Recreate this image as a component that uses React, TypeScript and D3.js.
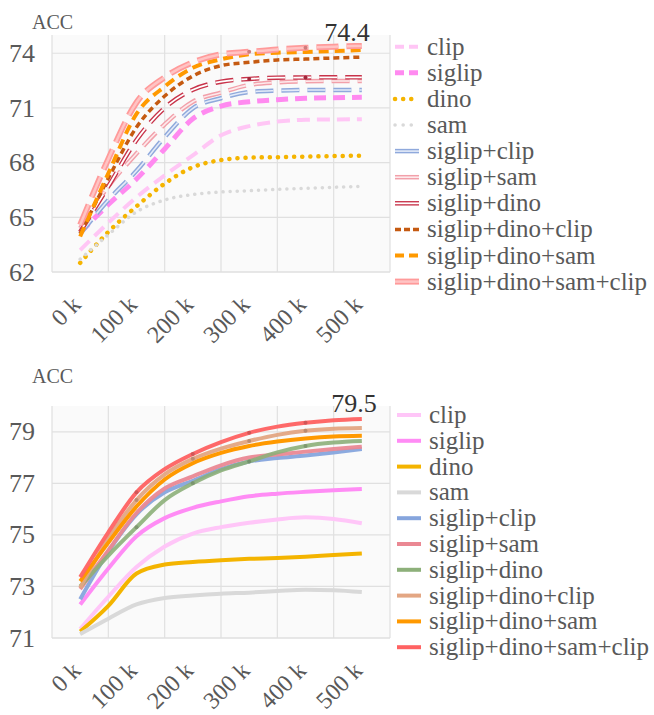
import React from "react";
import * as d3 from "d3";

// ---------- data ----------
const X_VALUES = [0, 50, 100, 150, 200, 250, 300, 350, 400, 450, 500];
const X_TICKS = [0, 100, 200, 300, 400, 500];
const X_GRID = [-50, 50, 150, 250, 350, 450, 550];
const SERIES_NAMES = [
  "clip",
  "siglip",
  "dino",
  "sam",
  "siglip+clip",
  "siglip+sam",
  "siglip+dino",
  "siglip+dino+clip",
  "siglip+dino+sam",
  "siglip+dino+sam+clip",
];

const TOP_Y_TICKS = [62, 65, 68, 71, 74];
const TOP_CLIP = [63.2, 64.7, 66.1, 67.3, 68.4, 69.5, 70.0, 70.25, 70.35, 70.37, 70.38];
const TOP_SIGLIP = [64.15, 65.7, 67.1, 68.75, 70.4, 71.1, 71.34, 71.45, 71.53, 71.56, 71.58];
const TOP_DINO = [62.5, 64.2, 65.6, 66.85, 67.75, 68.14, 68.27, 68.3, 68.33, 68.36, 68.38];
const TOP_SAM = [62.7, 64.05, 65.3, 65.95, 66.25, 66.39, 66.46, 66.53, 66.59, 66.65, 66.7];
const TOP_SIGLIP_CLIP = [64.1, 65.95, 67.55, 69.4, 70.98, 71.53, 71.87, 71.95, 71.98, 71.98, 71.98];
const TOP_SIGLIP_SAM = [64.4, 66.7, 68.5, 70.1, 71.34, 71.84, 72.26, 72.4, 72.46, 72.48, 72.48];
const TOP_SIGLIP_DINO = [64.2, 66.7, 69.24, 71.0, 72.0, 72.44, 72.59, 72.66, 72.67, 72.68, 72.68];
const TOP_SIGLIP_DINO_CLIP = [64.1, 67.14, 69.94, 71.65, 72.75, 73.32, 73.5, 73.63, 73.68, 73.74, 73.79];
const TOP_SIGLIP_DINO_SAM = [63.95, 67.41, 70.67, 72.17, 73.2, 73.67, 73.94, 74.03, 74.07, 74.12, 74.18];
const TOP_SIGLIP_DINO_SAM_CLIP = [64.58, 68.2, 71.3, 72.68, 73.5, 73.94, 74.08, 74.21, 74.3, 74.36, 74.4];
const TOP_MAX_LABEL = "74.4";

const BOTTOM_Y_TICKS = [71, 73, 75, 77, 79];
const BOTTOM_CLIP = [71.35, 72.6, 73.75, 74.55, 75.05, 75.3, 75.47, 75.6, 75.68, 75.62, 75.45];
const BOTTOM_SIGLIP = [72.3, 73.7, 74.95, 75.65, 76.05, 76.3, 76.5, 76.6, 76.67, 76.73, 76.78];
const BOTTOM_DINO = [71.25, 72.25, 73.5, 73.85, 73.95, 74.02, 74.07, 74.1, 74.15, 74.22, 74.28];
const BOTTOM_SAM = [71.15, 71.75, 72.3, 72.55, 72.65, 72.72, 72.76, 72.82, 72.87, 72.85, 72.78];
const BOTTOM_SIGLIP_CLIP = [72.5, 74.35, 75.8, 76.65, 77.1, 77.55, 77.85, 77.98, 78.08, 78.2, 78.33];
const BOTTOM_SIGLIP_SAM = [72.9, 74.4, 75.85, 76.8, 77.27, 77.7, 78.0, 78.12, 78.23, 78.33, 78.42];
const BOTTOM_SIGLIP_DINO = [73.0, 74.2, 75.3, 76.35, 77.0, 77.5, 77.85, 78.2, 78.45, 78.58, 78.64];
const BOTTOM_SIGLIP_DINO_CLIP = [72.95, 74.85, 76.35, 77.35, 77.95, 78.35, 78.64, 78.88, 79.04, 79.12, 79.15];
const BOTTOM_SIGLIP_DINO_SAM = [73.2, 74.7, 76.1, 77.15, 77.78, 78.18, 78.45, 78.62, 78.74, 78.82, 78.85];
const BOTTOM_SIGLIP_DINO_SAM_CLIP = [73.36, 75.1, 76.65, 77.55, 78.14, 78.6, 78.96, 79.2, 79.35, 79.45, 79.5];
const BOTTOM_MAX_LABEL = "79.5";

const MARKER_X = [100, 200, 300, 400];

const TOP_DATA = [
  TOP_CLIP, TOP_SIGLIP, TOP_DINO, TOP_SAM, TOP_SIGLIP_CLIP, TOP_SIGLIP_SAM,
  TOP_SIGLIP_DINO, TOP_SIGLIP_DINO_CLIP, TOP_SIGLIP_DINO_SAM, TOP_SIGLIP_DINO_SAM_CLIP,
];
const BOTTOM_DATA = [
  BOTTOM_CLIP, BOTTOM_SIGLIP, BOTTOM_DINO, BOTTOM_SAM, BOTTOM_SIGLIP_CLIP, BOTTOM_SIGLIP_SAM,
  BOTTOM_SIGLIP_DINO, BOTTOM_SIGLIP_DINO_CLIP, BOTTOM_SIGLIP_DINO_SAM, BOTTOM_SIGLIP_DINO_SAM_CLIP,
];

// ---------- styles ----------
type Sty = {
  color: string;
  width: number;
  dash?: string;
  legendDash?: string;
  cap?: string;
  inner?: string;
  innerWidth?: number;
  markers?: number[];
  opacity?: number;
};

const TOP_STYLES: Sty[] = [
  { color: "#ffc6f5", width: 4, dash: "13 7", legendDash: "9 5" },
  { color: "#ff8af0", width: 5, dash: "12 7", legendDash: "9 5" },
  { color: "#f5b400", width: 4.5, dash: "0.1 8", cap: "round", legendDash: "0.1 8" },
  { color: "#d9d9d9", width: 3.5, dash: "0.1 7", cap: "round", legendDash: "0.1 8" },
  { color: "#8fa9dc", width: 4.5, dash: "18 8", inner: "#e4ebf8", innerWidth: 1.6, legendDash: "" },
  { color: "#f2a0aa", width: 4.5, dash: "18 8", inner: "#fdeaec", innerWidth: 1.6, legendDash: "" },
  { color: "#c8334a", width: 4.5, dash: "18 8", inner: "#ffffff", innerWidth: 1.8, legendDash: "", markers: [300, 400] },
  { color: "#c55a11", width: 3.5, dash: "6 4", legendDash: "6 3" },
  { color: "#ff9900", width: 4, dash: "10 6", legendDash: "9 5" },
  { color: "#ff9a9a", width: 6, dash: "22 8", inner: "#ffc4c4", innerWidth: 2.5, legendDash: "", markers: [300, 400] },
];

const BOTTOM_STYLES: Sty[] = [
  { color: "#ffc6f8", width: 4 },
  { color: "#ff8cf5", width: 4 },
  { color: "#f4b400", width: 4 },
  { color: "#d9d9d9", width: 4 },
  { color: "#86a5dd", width: 4, opacity: 0.95 },
  { color: "#ea8893", width: 4, opacity: 0.95 },
  { color: "#8db07a", width: 4, opacity: 0.9, markers: MARKER_X },
  { color: "#e3a683", width: 4, opacity: 0.95, markers: MARKER_X },
  { color: "#ff9900", width: 4 },
  { color: "#ff6262", width: 4, opacity: 0.95, markers: MARKER_X },
];

const FONT = "Liberation Serif, Times New Roman, Tinos, DejaVu Serif, serif";
const TEXT = "#595959";
const GRID = "#e0e0e0";
const TXT_STYLE = { fontFamily: FONT };

const X_LEFT = 52;
const X_RIGHT = 390;

type PanelProps = {
  top: number;
  bottom: number;
  yDomain: [number, number];
  yTicks: number[];
  data: number[][];
  styles: Sty[];
  maxLabel: string;
  maxLabelX: number;
  maxLabelY: number;
  accY: number;
  legendY0: number;
  legendStep: number;
  legendX0: number;
  xLabelY: number;
};

function Panel(p: PanelProps) {
  const x = d3.scaleLinear().domain([-50, 550]).range([X_LEFT, X_RIGHT]);
  const y = d3.scaleLinear().domain(p.yDomain).range([p.bottom, p.top]);
  const line = d3
    .line<[number, number]>()
    .x((d) => x(d[0]))
    .y((d) => y(d[1]))
    .curve(d3.curveMonotoneX);

  return (
    <g>
      <rect x={X_LEFT} y={p.top} width={X_RIGHT - X_LEFT} height={p.bottom - p.top} fill="#fafafa" />
      {X_GRID.map((g) => (
        <line key={"vx" + g} x1={x(g)} x2={x(g)} y1={p.top} y2={p.bottom} stroke={GRID} strokeWidth={1.2} />
      ))}
      {p.yTicks.map((t) => (
        <line key={"hy" + t} x1={X_LEFT} x2={X_RIGHT} y1={y(t)} y2={y(t)} stroke={GRID} strokeWidth={1.2} />
      ))}
      <line x1={X_LEFT} x2={X_RIGHT} y1={p.bottom} y2={p.bottom} stroke={GRID} strokeWidth={1.2} />
      {p.yTicks.map((t) => (
        <text key={"yl" + t} x={35} y={y(t)} dy="0.33em" textAnchor="end" style={TXT_STYLE} fontSize={26} fill={TEXT}>
          {t}
        </text>
      ))}
      <text x={32} y={p.accY} style={TXT_STYLE} fontSize={20} fill={TEXT}>
        ACC
      </text>
      {X_TICKS.map((t) => (
        <text
          key={"xl" + t}
          transform={`translate(${x(t) + 2},${p.xLabelY}) rotate(-45)`}
          textAnchor="end"
          style={TXT_STYLE}
          fontSize={24}
          fill={TEXT}
        >
          {t + " k"}
        </text>
      ))}
      {p.data.map((vals, i) => {
        const s = p.styles[i];
        const pts: [number, number][] = X_VALUES.map((xv, j) => [xv, vals[j]]);
        const d = line(pts) || "";
        return (
          <g key={"s" + i} opacity={s.opacity ?? 1}>
            <path d={d} fill="none" stroke={s.color} strokeWidth={s.width} strokeDasharray={s.dash} strokeLinecap={s.cap || "butt"} />
            {s.inner && (
              <path d={d} fill="none" stroke={s.inner} strokeWidth={s.innerWidth} strokeDasharray={s.dash} />
            )}
            {(s.markers || []).map((mx) => {
              const j = X_VALUES.indexOf(mx);
              return <circle key={mx} cx={x(mx)} cy={y(vals[j])} r={2} fill={d3.color(s.color)!.darker(0.6).toString()} />;
            })}
          </g>
        );
      })}
      <text x={p.maxLabelX} y={p.maxLabelY} textAnchor="middle" style={TXT_STYLE} fontSize={26} fill="#333">
        {p.maxLabel}
      </text>
      {SERIES_NAMES.map((name, i) => {
        const s = p.styles[i];
        const cy = p.legendY0 + i * p.legendStep;
        return (
          <g key={"lg" + i}>
            <line
              x1={p.legendX0}
              x2={p.legendX0 + 24}
              y1={cy}
              y2={cy}
              stroke={s.color}
              strokeWidth={s.width}
              strokeDasharray={s.legendDash ?? ""}
              strokeLinecap={s.cap || "butt"}
            />
            {s.inner && (
              <line x1={p.legendX0} x2={p.legendX0 + 24} y1={cy} y2={cy} stroke={s.inner} strokeWidth={s.innerWidth} />
            )}
            <text x={p.legendX0 + 32} y={cy} dy="0.32em" style={TXT_STYLE} fontSize={25} fill={TEXT}>
              {name}
            </text>
          </g>
        );
      })}
    </g>
  );
}

export default function App() {
  return (
    <svg
      width={654}
      height={715}
      style={{ position: "absolute", left: 0, top: 0, background: "#fff" }}
    >
      <rect width={654} height={715} fill="#fff" />
      <Panel
        top={35}
        bottom={272}
        yDomain={[62, 75]}
        yTicks={TOP_Y_TICKS}
        data={TOP_DATA}
        styles={TOP_STYLES}
        maxLabel={TOP_MAX_LABEL}
        maxLabelX={347}
        maxLabelY={41}
        accY={29}
        legendY0={46.7}
        legendStep={26.1}
        legendX0={395}
        xLabelY={306}
      />
      <Panel
        top={406}
        bottom={638}
        yDomain={[71, 80]}
        yTicks={BOTTOM_Y_TICKS}
        data={BOTTOM_DATA}
        styles={BOTTOM_STYLES}
        maxLabel={BOTTOM_MAX_LABEL}
        maxLabelX={354}
        maxLabelY={412}
        accY={383}
        legendY0={415}
        legendStep={25.8}
        legendX0={397}
        xLabelY={672}
      />
    </svg>
  );
}
